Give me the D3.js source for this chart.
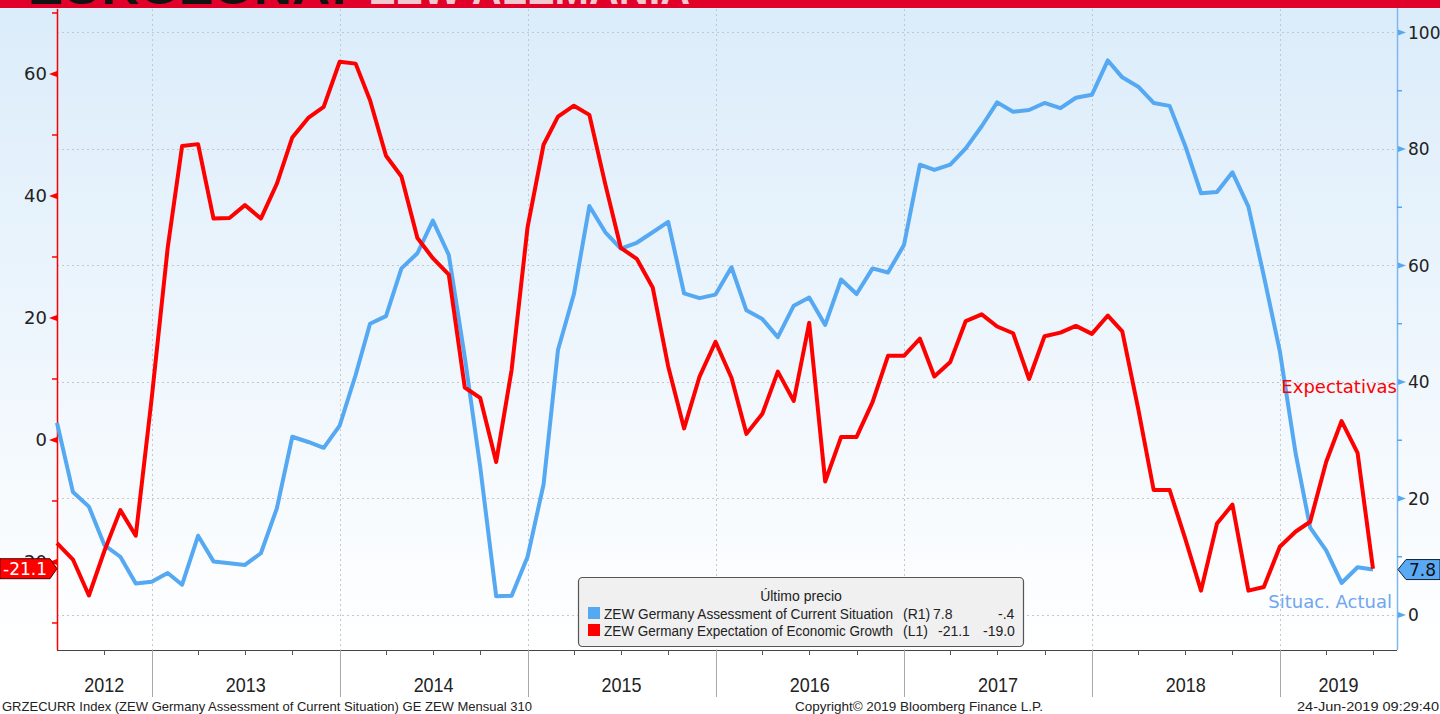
<!DOCTYPE html>
<html>
<head>
<meta charset="utf-8">
<script src="https://cdn.jsdelivr.net/npm/d3@7"></script>
<style>
html,body{margin:0;padding:0;background:#fff;}
svg{display:block;}
</style>
</head>
<body>
<svg id="chart" width="1440" height="714"></svg>
<script>
// ---------------- DATA ----------------
const startMonth = "2012-06";   // first monthly observation
const endMonth = "2019-06";     // last monthly observation
// ZEW Germany Expectation of Economic Growth (left axis)
const expectations = [
  -16.9, -19.6, -25.5, -18.2, -11.5, -15.7, 6.9,
  31.5, 48.2, 48.5, 36.3, 36.4, 38.5, 36.3, 42.0, 49.6, 52.8, 54.6, 62.0,
  61.7, 55.7, 46.6, 43.2, 33.1, 29.8, 27.1, 8.6, 6.9, -3.6, 11.5, 34.9,
  48.4, 53.0, 54.8, 53.3, 41.9, 31.5, 29.7, 25.0, 12.1, 1.9, 10.4, 16.1,
  10.2, 1.0, 4.3, 11.2, 6.4, 19.2, -6.8, 0.5, 0.5, 6.2, 13.8, 13.8,
  16.6, 10.4, 12.8, 19.5, 20.6, 18.6, 17.5, 10.0, 17.0, 17.6, 18.7, 17.4,
  20.4, 17.8, 5.1, -8.2, -8.2, -16.1, -24.7, -13.7, -10.6, -24.7, -24.1, -17.5,
  -15.0, -13.4, -3.6, 3.1, -2.1, -21.1
];
// ZEW Germany Assessment of Current Situation (right axis)
const situation = [
  33.0, 21.1, 18.6, 12.0, 10.0, 5.4, 5.7,
  7.2, 5.2, 13.6, 9.2, 8.9, 8.6, 10.6, 18.3, 30.6, 29.7, 28.7, 32.5,
  41.2, 50.0, 51.3, 59.5, 62.1, 67.7, 61.8, 44.3, 25.4, 3.2, 3.3, 10.0,
  22.4, 45.5, 55.1, 70.2, 65.7, 62.9, 63.9, 65.7, 67.5, 55.2, 54.4, 55.0,
  59.7, 52.3, 50.8, 47.7, 53.1, 54.5, 49.8, 57.6, 55.1, 59.5, 58.8, 63.5,
  77.3, 76.4, 77.3, 80.1, 83.9, 88.0, 86.4, 86.7, 87.9, 87.0, 88.8, 89.3,
  95.2, 92.3, 90.7, 87.9, 87.4, 80.6, 72.4, 72.6, 76.0, 70.1, 58.2, 45.3,
  27.6, 15.0, 11.1, 5.5, 8.2, 7.8
];
const leftTicks = [60, 40, 20, 0, -20];
const leftMinorTicks = [70, 50, 30, 10, -10, -30];
const rightTicks = [100, 80, 60, 40, 20, 0];
const rightMinorTicks = [90, 70, 50, 30, 10];
const yearLabels = ["2012", "2013", "2014", "2015", "2016", "2017", "2018", "2019"];
const titleText = ["EUROZONA:", "ZEW ALEMANIA"];
const legendTitle = "Último precio";
const legendRows = [
  {name: "ZEW Germany Assessment of Current Situation", axis: "(R1)", last: "7.8", chg: "-.4", key: "sit"},
  {name: "ZEW Germany Expectation of Economic Growth", axis: "(L1)", last: "-21.1", chg: "-19.0", key: "exp"}
];
const seriesLabels = {exp: "Expectativas", sit: "Situac. Actual"};
const lastTags = {exp: "-21.1", sit: "7.8"};
const footerLeft = "GRZECURR Index (ZEW Germany Assessment of Current Situation) GE ZEW  Mensual 310";
const footerMid = "Copyright\u00A9 2019 Bloomberg Finance L.P.";
const footerRight = "24-Jun-2019 09:29:40";

// ---------------- LAYOUT ----------------
const W = 1440, H = 714;
const plotL = 57, plotR = 1397, plotT = 9, plotB = 650;
const RED = "#ff0000", BLUE = "#55a8f2";

const parseM = d3.timeParse("%Y-%m");
const months = d3.timeMonth.range(parseM(startMonth), d3.timeMonth.offset(parseM(endMonth), 1));
// observations are plotted at month end (start of following month)
const obsDate = d => d3.timeMonth.offset(d, 1);

const x = d3.scaleTime()
  .domain([obsDate(months[0]), obsDate(months[months.length - 1])])
  .range([plotL, 1373]);
const yL = d3.scaleLinear().domain([-34.43, 70.49]).range([plotB, plotT + 1]);
const yR = d3.scaleLinear().domain([-6.01, 103.86]).range([plotB, plotT + 1]);
const xEnd = x.invert(plotR);

const svg = d3.select("#chart");
const defs = svg.append("defs");
const grad = defs.append("linearGradient").attr("id", "bg").attr("x1", 0).attr("y1", 0).attr("x2", 0).attr("y2", 1);
grad.append("stop").attr("offset", "0%").attr("stop-color", "#dbecfa");
grad.append("stop").attr("offset", "100%").attr("stop-color", "#ffffff");
defs.append("clipPath").attr("id", "banner").append("rect").attr("x", 0).attr("y", 0).attr("width", W).attr("height", 8);

svg.append("rect").attr("width", W).attr("height", H).attr("fill", "#fff");
svg.append("rect").attr("x", 0).attr("y", 8).attr("width", W).attr("height", plotB - 8).attr("fill", "url(#bg)");

// banner
svg.append("rect").attr("x", 0).attr("y", 0).attr("width", W).attr("height", 8).attr("fill", "#e0002a");
const bannerG = svg.append("g").attr("clip-path", "url(#banner)");
bannerG.append("text").attr("x", 28).attr("y", 4).attr("font-family", "Liberation Sans, Arial, sans-serif")
  .attr("font-weight", "bold").attr("font-size", 44).attr("fill", "#111")
  .attr("textLength", 320).attr("lengthAdjust", "spacingAndGlyphs").text(titleText[0]);
bannerG.append("text").attr("x", 370).attr("y", 4).attr("font-family", "Liberation Sans, Arial, sans-serif")
  .attr("font-weight", "bold").attr("font-size", 44).attr("fill", "#f3c9cf")
  .attr("textLength", 320).attr("lengthAdjust", "spacingAndGlyphs").text(titleText[1]);

// grid
const grid = svg.append("g").attr("stroke", "#c4c8cc").attr("stroke-width", 1).attr("stroke-dasharray", "2,3");
grid.selectAll("line.h").data(rightTicks).join("line")
  .attr("x1", plotL).attr("x2", plotR).attr("y1", d => Math.round(yR(d)) + 0.5).attr("y2", d => Math.round(yR(d)) + 0.5);
const yearStarts = d3.timeYear.range(d3.timeYear.ceil(x.domain()[0]), xEnd);
grid.selectAll("line.v").data(yearStarts).join("line")
  .attr("x1", d => Math.round(x(d)) + 0.5).attr("x2", d => Math.round(x(d)) + 0.5)
  .attr("y1", plotT).attr("y2", plotB);

// x axis
const xAxisG = svg.append("g");
xAxisG.append("line").attr("x1", plotL).attr("x2", plotR).attr("y1", plotB + 0.5).attr("y2", plotB + 0.5)
  .attr("stroke", "#444").attr("stroke-width", 1.2);
const quarters = d3.timeMonth.every(3).range(d3.timeMonth.offset(x.domain()[0], 1), xEnd);
xAxisG.selectAll("line.q").data(quarters).join("line")
  .attr("x1", d => Math.round(x(d)) + 0.5).attr("x2", d => Math.round(x(d)) + 0.5)
  .attr("y1", plotB).attr("y2", plotB + 5).attr("stroke", "#555");
xAxisG.selectAll("line.y").data(yearStarts).join("line")
  .attr("x1", d => Math.round(x(d)) + 0.5).attr("x2", d => Math.round(x(d)) + 0.5)
  .attr("y1", plotB).attr("y2", 697).attr("stroke", "#a8a8a8");
const bounds = [plotL, ...yearStarts.map(d => x(d)), plotR];
xAxisG.selectAll("text.yr").data(yearLabels).join("text")
  .attr("x", (d, i) => (bounds[i] + bounds[i + 1]) / 2 - 20)
  .attr("y", 692)
  .attr("font-family", "Liberation Sans Narrow, Liberation Sans, Arial, sans-serif")
  .attr("font-size", 21).attr("fill", "#222")
  .attr("textLength", 40).attr("lengthAdjust", "spacingAndGlyphs")
  .text(d => d);

// left axis
const lAx = svg.append("g");
lAx.append("line").attr("x1", plotL + 0.5).attr("x2", plotL + 0.5).attr("y1", plotT).attr("y2", plotB)
  .attr("stroke", RED).attr("stroke-width", 1.5);
lAx.selectAll("path.mj").data(leftTicks).join("path")
  .attr("d", d => { const y = yL(d); return `M${plotL},${y - 3}L${plotL},${y + 3}L${plotL - 8},${y}Z`; })
  .attr("fill", RED);
lAx.selectAll("line.mn").data(leftMinorTicks).join("line")
  .attr("x1", plotL - 5).attr("x2", plotL).attr("y1", d => yL(d)).attr("y2", d => yL(d))
  .attr("stroke", RED).attr("stroke-width", 1.5);
lAx.selectAll("text").data(leftTicks).join("text")
  .attr("x", 47).attr("y", d => yL(d) + 6.5).attr("text-anchor", "end")
  .attr("font-family", "DejaVu Sans, Verdana, sans-serif").attr("font-size", 18).attr("fill", "#222")
  .text(d => d);

// right axis
const rAx = svg.append("g");
rAx.append("line").attr("x1", plotR + 0.5).attr("x2", plotR + 0.5).attr("y1", 8).attr("y2", plotB)
  .attr("stroke", "#7fb8ee").attr("stroke-width", 1.5);
rAx.selectAll("path.mj").data(rightTicks).join("path")
  .attr("d", d => { const y = yR(d); return `M${plotR + 1},${y - 3}L${plotR + 1},${y + 3}L${plotR + 9},${y}Z`; })
  .attr("fill", BLUE);
rAx.selectAll("line.mn").data(rightMinorTicks).join("line")
  .attr("x1", plotR).attr("x2", plotR + 5).attr("y1", d => yR(d)).attr("y2", d => yR(d))
  .attr("stroke", BLUE).attr("stroke-width", 1.5);
rAx.selectAll("text").data(rightTicks).join("text")
  .attr("x", 1408).attr("y", d => yR(d) + 6.5)
  .attr("font-family", "DejaVu Sans, Verdana, sans-serif").attr("font-size", 17).attr("fill", "#222")
  .text(d => d);

// lines
const sitData = months.map((m, i) => ({d: obsDate(m), v: situation[i]}));
const expData = months.map((m, i) => ({d: obsDate(m), v: expectations[i]}));
svg.append("path").datum(sitData)
  .attr("d", d3.line().x(p => x(p.d)).y(p => yR(p.v)))
  .attr("fill", "none").attr("stroke", BLUE).attr("stroke-width", 4).attr("stroke-linejoin", "round");
svg.append("path").datum(expData)
  .attr("d", d3.line().x(p => x(p.d)).y(p => yL(p.v)))
  .attr("fill", "none").attr("stroke", RED).attr("stroke-width", 4).attr("stroke-linejoin", "round");

// series labels
svg.append("text").attr("x", plotR).attr("y", 393).attr("text-anchor", "end")
  .attr("font-family", "DejaVu Sans, Verdana, sans-serif").attr("font-size", 18).attr("fill", RED)
  .text(seriesLabels.exp);
svg.append("text").attr("x", 1392).attr("y", 608).attr("text-anchor", "end")
  .attr("font-family", "DejaVu Sans, Verdana, sans-serif").attr("font-size", 18).attr("fill", "#70a6ee")
  .text(seriesLabels.sit);

// last value tags
const ly = yL(expectations[expectations.length - 1]);
svg.append("path").attr("d", `M0,${ly - 10}L50,${ly - 10}L57,${ly}L50,${ly + 10}L0,${ly + 10}Z`)
  .attr("fill", RED).attr("stroke", "#500").attr("stroke-width", 1);
svg.append("text").attr("x", 3).attr("y", ly + 6.5)
  .attr("font-family", "DejaVu Sans, Verdana, sans-serif").attr("font-size", 17).attr("fill", "#fff")
  .text(lastTags.exp);
const ry = yR(situation[situation.length - 1]);
svg.append("path").attr("d", `M${plotR + 1},${ry}L${plotR + 9},${ry - 10}L1440,${ry - 10}L1440,${ry + 10}L${plotR + 9},${ry + 10}Z`)
  .attr("fill", "#5aa9f5").attr("stroke", "#123").attr("stroke-width", 1);
svg.append("text").attr("x", 1409).attr("y", ry + 6.5)
  .attr("font-family", "DejaVu Sans, Verdana, sans-serif").attr("font-size", 17).attr("fill", "#111")
  .text(lastTags.sit);

// legend
const lg = svg.append("g");
lg.append("rect").attr("x", 578.5).attr("y", 577.5).attr("width", 445).attr("height", 69).attr("rx", 4)
  .attr("fill", "#f0f0f0").attr("stroke", "#555").attr("stroke-width", 1.2);
const LF = "Liberation Sans, Arial, sans-serif";
lg.append("text").attr("x", 801).attr("y", 601).attr("text-anchor", "middle")
  .attr("font-family", LF).attr("font-size", 14).attr("fill", "#222").text(legendTitle);
const colorOf = {sit: BLUE, exp: RED};
legendRows.forEach((r, i) => {
  const by = 619 + i * 17;
  lg.append("rect").attr("x", 588).attr("y", by - 12).attr("width", 12).attr("height", 12).attr("fill", colorOf[r.key]);
  lg.append("text").attr("x", 604).attr("y", by).attr("font-family", LF).attr("font-size", 14).attr("fill", "#222")
    .attr("textLength", 289).attr("lengthAdjust", "spacingAndGlyphs").text(r.name);
  lg.append("text").attr("x", 903).attr("y", by).attr("font-family", LF).attr("font-size", 14).attr("fill", "#222").text(r.axis);
  lg.append("text").attr("x", i === 0 ? 933 : 938).attr("y", by).attr("font-family", LF).attr("font-size", 14).attr("fill", "#222").text(r.last);
  lg.append("text").attr("x", i === 0 ? 998 : 983).attr("y", by).attr("font-family", LF).attr("font-size", 14).attr("fill", "#222").text(r.chg);
});

// footer
const FF = "Liberation Sans, Arial, sans-serif";
svg.append("text").attr("x", 2).attr("y", 711).attr("font-family", FF).attr("font-size", 13).attr("fill", "#222")
  .attr("textLength", 530).attr("lengthAdjust", "spacingAndGlyphs").text(footerLeft);
svg.append("text").attr("x", 795).attr("y", 711).attr("font-family", FF).attr("font-size", 13).attr("fill", "#222")
  .attr("textLength", 248).attr("lengthAdjust", "spacingAndGlyphs").text(footerMid);
svg.append("text").attr("x", 1297).attr("y", 711).attr("font-family", FF).attr("font-size", 13).attr("fill", "#222")
  .attr("textLength", 142).attr("lengthAdjust", "spacingAndGlyphs").text(footerRight);
</script>
</body>
</html>
